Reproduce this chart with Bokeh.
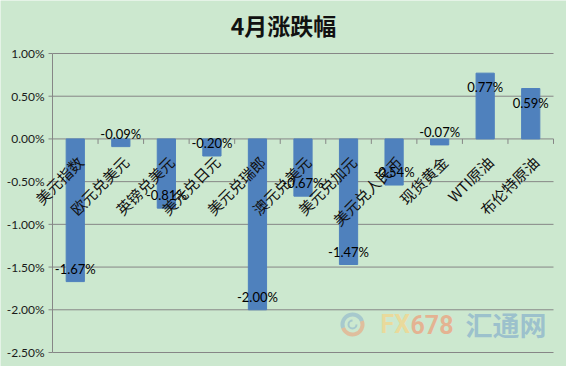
import math
from bokeh.plotting import figure
from bokeh.models import ColumnDataSource, Range1d
from bokeh.core.properties import value
from bokeh.embed import file_html
from bokeh.resources import INLINE

categories = ["美元指数", "欧元兑美元", "英镑兑美元", "美元兑日元", "美元兑瑞郎", "澳元兑美元",
              "美元兑加元", "美元兑人民币", "现货黄金", "WTI原油", "布伦特原油"]
changes = [-1.67, -0.09, -0.81, -0.20, -2.00, -0.67, -1.47, -0.54, -0.07, 0.77, 0.59]
y_ticks = [1.0, 0.5, 0.0, -0.5, -1.0, -1.5, -2.0, -2.5]
y_tick_labels = ["1.00%", "0.50%", "0.00%", "-0.50%", "-1.00%", "-1.50%", "-2.00%", "-2.50%"]
title_text = "4月涨跌幅"

BG = "#cce8cf"
BAR = "#4f81bd"
GRID = "#868686"

# ---- layout (pixels in the 566x366 canvas) ----
W, H = 566, 366
PL, PR, PT, PB = 52, 553, 53, 352       # plot-area edges
n = len(categories)
ymin, ymax = min(y_ticks), max(y_ticks)
pxu = (PR - PL) / n                      # pixels per category
pyu = (PB - PT) / (ymax - ymin)          # pixels per percent
x_start = -0.5 - PL / pxu
x_end = n - 0.5 + (W - PR) / pxu
y_end = ymax + PT / pyu
y_start = ymin - (H - PB) / pyu


def dx(sx):
    return x_start + sx / pxu


def dy(sy):
    return y_end - sy / pyu


def rad(d):
    return d * math.pi / 180


idx = list(range(n))

p = figure(width=W, height=H, output_backend="svg", toolbar_location=None,
           x_range=Range1d(x_start, x_end), y_range=Range1d(y_start, y_end),
           x_axis_location=None, y_axis_location=None,
           min_border_left=0, min_border_right=0, min_border_top=0, min_border_bottom=0)
p.background_fill_color = BG
p.border_fill_color = BG
p.outline_line_color = None
p.grid.visible = False

# gridlines (incl. zero line)
p.segment(x0=-0.5, y0=y_ticks, x1=n - 0.5, y1=y_ticks, line_color=GRID, line_width=1)
# y axis line and ticks
p.segment(x0=-0.5, y0=ymin, x1=-0.5, y1=ymax, line_color=GRID, line_width=1)
p.ray(x=[-0.5] * len(y_ticks), y=y_ticks, length=4, length_units="screen",
      angle=180, angle_units="deg", line_color=GRID, line_width=1)
# category boundary ticks on zero line
p.ray(x=[i - 0.5 for i in range(n + 1)], y=[0] * (n + 1), length=5, length_units="screen",
      angle=-90, angle_units="deg", line_color=GRID, line_width=1)

# y tick labels
p.text(x=[-0.5] * len(y_ticks), y=y_ticks, text=y_tick_labels, x_offset=-8,
       text_align="right", text_baseline="middle",
       text_font=value("Lato"), text_font_size="12px", text_color="#1a1a1a")

# watermark
p.arc(x=[dx(352)], y=[dy(324)], radius=10, radius_units="screen",
      start_angle=rad(20), end_angle=rad(200),
      line_color="#8db4cc", line_width=4, line_alpha=0.6)
p.arc(x=[dx(352)], y=[dy(324)], radius=10, radius_units="screen",
      start_angle=rad(200), end_angle=rad(380),
      line_color="#eba27c", line_width=4, line_alpha=0.6)
p.arc(x=[dx(352)], y=[dy(324)], radius=4, radius_units="screen",
      start_angle=rad(90), end_angle=rad(360),
      line_color="#8db4cc", line_width=2, line_alpha=0.6)
p.text(x=[dx(380)], y=[dy(324)], text=["FX"], text_align="left", text_baseline="middle",
       text_font=value("Roboto"), text_font_size="25px", text_font_style="bold",
       text_color="#f3d68c", text_alpha=0.75)
p.text(x=[dx(410)], y=[dy(324)], text=["678"], text_align="left", text_baseline="middle",
       text_font=value("Roboto"), text_font_size="25px", text_font_style="bold",
       text_color="#eca27e", text_alpha=0.75)
p.text(x=[dx(465)], y=[dy(324)], text=["汇通网"], text_align="left", text_baseline="middle",
       text_font=value("Noto Sans CJK SC"), text_font_size="27px", text_font_style="bold",
       text_color="#8db4cc", text_alpha=0.75)

# bars
p.vbar(x=idx, top=changes, bottom=0, width=0.4, color=BAR)

# category labels, rotated
cat_src = ColumnDataSource(dict(x=idx, y=[0] * n, t=categories))
p.text(x="x", y="y", text="t", source=cat_src, angle=45, angle_units="deg",
       x_offset=5, y_offset=20, text_align="right", text_baseline="middle",
       text_font=value("Noto Sans CJK SC"), text_font_size="15px", text_color="#111111")

# data labels (inside end)
lab_off = [14 if v >= 0 else -13 for v in changes]
lab_txt = [f"{v:.2f}%" for v in changes]
lab_src = ColumnDataSource(dict(x=idx, y=changes, o=lab_off, t=lab_txt))
p.text(x="x", y="y", text="t", y_offset="o", source=lab_src,
       text_align="center", text_baseline="middle",
       text_font=value("Lato"), text_font_size="13px", text_color="#000000")

# title
p.text(x=[dx(283)], y=[dy(24)], text=[title_text], text_align="center", text_baseline="middle",
       text_font=value("Noto Sans CJK SC"), text_font_size="23px", text_font_style="bold",
       text_color="#111111")

open("out.html", "w").write(file_html(p, INLINE))
